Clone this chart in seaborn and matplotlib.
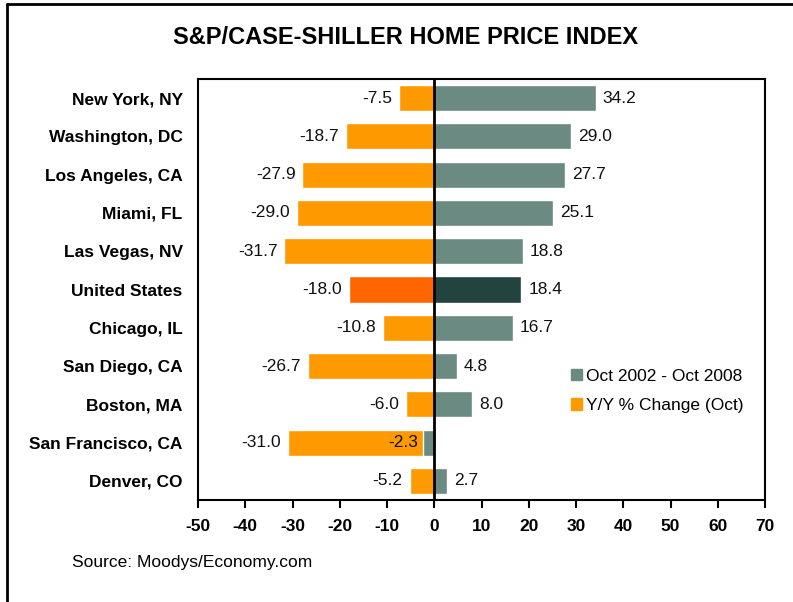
import matplotlib
matplotlib.use("Agg")
import matplotlib.pyplot as plt
import matplotlib.patches as mpatches
from matplotlib.lines import Line2D
import seaborn as sns
import pandas as pd

# data
cities = ["New York, NY", "Washington, DC", "Los Angeles, CA", "Miami, FL",
          "Las Vegas, NV", "United States", "Chicago, IL", "San Diego, CA",
          "Boston, MA", "San Francisco, CA", "Denver, CO"]
yy_change = [-7.5, -18.7, -27.9, -29.0, -31.7, -18.0, -10.8, -26.7, -6.0, -31.0, -5.2]
since_2002 = [34.2, 29.0, 27.7, 25.1, 18.8, 18.4, 16.7, 4.8, 8.0, -2.3, 2.7]
x_ticks = [-50, -40, -30, -20, -10, 0, 10, 20, 30, 40, 50, 60, 70]

ORANGE = "#FF9900"
ORANGE_US = "#FF6600"
GREY = "#6A8A82"
GREY_US = "#22433F"

df = pd.DataFrame({"city": cities, "yy": yy_change, "total": since_2002})

sns.set_style("white")
plt.rcParams["font.family"] = ["Liberation Sans", "DejaVu Sans"]
plt.rcParams["text.color"] = "black"
plt.rcParams["xtick.color"] = "black"
plt.rcParams["ytick.color"] = "black"

fig = plt.figure(figsize=(7.93, 6.02), dpi=100)
ax = fig.add_axes([198 / 793, 1 - 500 / 602, (765 - 198) / 793, (500 - 79) / 602])

orange_pal = [ORANGE_US if c == "United States" else ORANGE for c in cities]
grey_pal = [GREY_US if c == "United States" else GREY for c in cities]

sns.barplot(data=df, y="city", x="yy", hue="city", palette=orange_pal, legend=False,
            width=0.68, saturation=1, orient="h", ax=ax)
sns.barplot(data=df, y="city", x="total", hue="city", palette=grey_pal, legend=False,
            width=0.68, saturation=1, orient="h", ax=ax)

ax.axvline(0, color="black", lw=2, zorder=5)

# value labels
for i, (a, b) in enumerate(zip(yy_change, since_2002)):
    ax.annotate(f"{a:.1f}", (a, i), xytext=(-5, 0), textcoords="offset points",
                ha="right", va="center", fontsize=12.5, color="#111111")
    if b >= 0:
        ax.annotate(f"{b:.1f}", (b, i), xytext=(5, 0), textcoords="offset points",
                    ha="left", va="center", fontsize=12.5, color="#111111")
    else:
        ax.annotate(f"{b:.1f}", (b, i), xytext=(-4, 0), textcoords="offset points",
                    ha="right", va="center", fontsize=12.5, color="#111111")

ax.set_xlim(-50, 70)
ax.set_ylim(10.5, -0.5)
ax.set_xticks(x_ticks)
ax.set_xticklabels([str(t) for t in x_ticks], fontweight="bold", fontsize=12.5)
ax.set_yticks(range(len(cities)))
ax.set_yticklabels(cities, fontweight="bold", fontsize=12.5)
ax.set_xlabel("")
ax.set_ylabel("")
ax.tick_params(axis="x", direction="out", length=6, width=1.5, pad=8, bottom=True)
ax.tick_params(axis="y", length=0, pad=11)
for s in ax.spines.values():
    s.set_color("black")
    s.set_linewidth(1.5)

handles = [mpatches.Patch(color=GREY, label="Oct 2002 - Oct 2008"),
           mpatches.Patch(color=ORANGE, label="Y/Y % Change (Oct)")]
fig.legend(handles=handles, loc="center left", bbox_to_anchor=(555 / 793, 1 - 391 / 602),
           bbox_transform=fig.transFigure, frameon=False, fontsize=12.5,
           handlelength=0.65, handleheight=0.65, handletextpad=0.25, labelspacing=0.85)

fig.text(406 / 793, 1 - 38 / 602, "S&P/CASE-SHILLER HOME PRICE INDEX", ha="center", va="center",
         fontsize=17, fontweight="bold")
fig.text(72 / 793, 1 - 563 / 602, "Source: Moodys/Economy.com", ha="left", va="center",
         fontsize=12.5)

# outer frame (cut off at the right and bottom in the original)
fig.add_artist(Line2D([7 / 793, 7 / 793], [0, 1 - 4 / 602], transform=fig.transFigure,
                      color="black", lw=2))
fig.add_artist(Line2D([7 / 793, 1], [1 - 4 / 602, 1 - 4 / 602], transform=fig.transFigure,
                      color="black", lw=2))

fig.savefig("out.png", dpi=100)
